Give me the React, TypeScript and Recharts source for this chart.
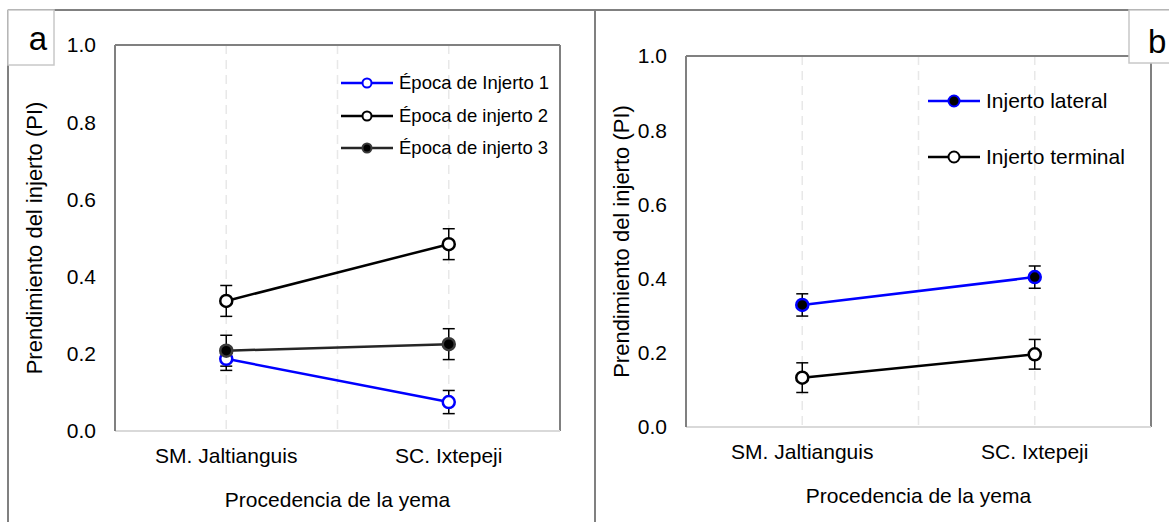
import { LineChart, Line, XAxis, YAxis, CartesianGrid, ErrorBar, Legend, ReferenceLine, Label } from 'recharts';

const FONT = '"Liberation Sans", Arial, sans-serif';

// categories (bud origin) and y ticks
const categories = ['SM. Jaltianguis', 'SC. Ixtepeji'];
const yTicks = [0, 0.2, 0.4, 0.6, 0.8, 1.0];

// panel a: grafting season
const epoca1 = [0.187, 0.075];
const epoca1Err = [0.03, 0.03];
const epoca2 = [0.337, 0.484];
const epoca2Err = [0.04, 0.04];
const epoca3 = [0.208, 0.225];
const epoca3Err = [0.04, 0.04];

// panel b: graft type
const lateral = [0.329, 0.404];
const lateralErr = [0.03, 0.03];
const terminal = [0.133, 0.196];
const terminalErr = [0.04, 0.04];

interface Series {
  key: string;
  name: string;
  stroke: string;
  dotFill: string;
  dotStroke: string;
}

const seriesA: Series[] = [
  { key: 'e1', name: 'Época de Injerto 1', stroke: '#0000ff', dotFill: '#ffffff', dotStroke: '#0000ff' },
  { key: 'e2', name: 'Época de injerto 2', stroke: '#000000', dotFill: '#ffffff', dotStroke: '#000000' },
  { key: 'e3', name: 'Época de injerto 3', stroke: '#262626', dotFill: '#000000', dotStroke: '#3a3a3a' },
];

const seriesB: Series[] = [
  { key: 'lat', name: 'Injerto lateral', stroke: '#0000ff', dotFill: '#000000', dotStroke: '#0000ff' },
  { key: 'ter', name: 'Injerto terminal', stroke: '#000000', dotFill: '#ffffff', dotStroke: '#000000' },
];

// category i sits at the middle of band i on a [0, n] axis
const xPos = (i: number) => i + 0.5;
const xTicks = [0.5, 1, 1.5];

const dataA = categories.map((c, i) => ({
  x: xPos(i),
  name: c,
  e1: epoca1[i],
  e1Err: epoca1Err[i],
  e2: epoca2[i],
  e2Err: epoca2Err[i],
  e3: epoca3[i],
  e3Err: epoca3Err[i],
}));

const dataB = categories.map((c, i) => ({
  x: xPos(i),
  name: c,
  lat: lateral[i],
  latErr: lateralErr[i],
  ter: terminal[i],
  terErr: terminalErr[i],
}));

const tickStyle = { fontSize: 21, fill: '#000', fontFamily: FONT };

function catLabel(v: number) {
  const idx = v - 0.5;
  return Number.isInteger(idx) && categories[idx] ? categories[idx] : '';
}

function LegendBox({ series, rowHeight, fontSize, markerR }: { series: Series[]; rowHeight: number; fontSize: number; markerR: number }) {
  return (
    <div style={{ fontFamily: FONT, fontSize, color: '#000' }}>
      {series.map((s) => (
        <div key={s.key} style={{ display: 'flex', alignItems: 'center', height: rowHeight }}>
          <svg width={52} height={20}>
            <line x1={0} y1={10} x2={52} y2={10} stroke={s.stroke} strokeWidth={2.5} />
            <circle cx={26} cy={10} r={markerR} fill={s.dotFill} stroke={s.dotStroke} strokeWidth={2} />
          </svg>
          <span style={{ marginLeft: 6, whiteSpace: 'nowrap' }}>{s.name}</span>
        </div>
      ))}
    </div>
  );
}

function yTitle(dx: number) {
  return ({ viewBox }: any) => {
    const cx = viewBox.x + dx;
    const cy = viewBox.y + viewBox.height / 2;
    return (
      <text x={cx} y={cy} dy="0.35em" transform={`rotate(-90 ${cx} ${cy})`} textAnchor="middle" fontSize={22} fontFamily={FONT} fill="#000">
        Prendimiento del injerto (PI)
      </text>
    );
  };
}

function xTitle(dy: number) {
  return ({ viewBox }: any) => (
    <text x={viewBox.x + viewBox.width / 2} y={viewBox.y + dy} textAnchor="middle" fontSize={21} fontFamily={FONT} fill="#000">
      Procedencia de la yema
    </text>
  );
}

function Panel({ data, series, width, margin, yWidth, legend }: any) {
  return (
    <LineChart width={width} height={522} data={data} margin={margin}>
      <CartesianGrid horizontal={false} stroke="#e8e8e8" strokeWidth={1.5} strokeDasharray="9 6" />
      <XAxis
        type="number"
        dataKey="x"
        domain={[0, 2]}
        ticks={xTicks}
        tickFormatter={catLabel}
        height={60}
        tickLine={false}
        tickSize={0}
        tickMargin={17}
        axisLine={{ stroke: '#d9d9d9', strokeWidth: 2 }}
        tick={tickStyle}
      >
        <Label content={xTitle(76)} />
      </XAxis>
      <YAxis
        type="number"
        domain={[0, 1]}
        ticks={yTicks}
        tickFormatter={(v: number) => v.toFixed(1)}
        width={yWidth}
        tickLine={false}
        tickSize={0}
        tickMargin={19}
        axisLine={{ stroke: '#808080', strokeWidth: 2 }}
        tick={tickStyle}
      >
        <Label content={yTitle(legend.yTitleX)} />
      </YAxis>
      <ReferenceLine y={1} stroke="#808080" strokeWidth={2} />
      <ReferenceLine x={2} stroke="#808080" strokeWidth={2} />
      <Legend
        layout="vertical"
        align="center"
        verticalAlign="middle"
        content={() => <LegendBox series={series} rowHeight={legend.rowHeight} fontSize={legend.fontSize} markerR={legend.markerR} />}
        wrapperStyle={{ position: 'absolute', left: legend.left, top: legend.top, width: 'auto', height: 'auto' }}
      />
      {series.map((s: Series) => (
        <Line
          key={s.key}
          type="linear"
          dataKey={s.key}
          name={s.name}
          stroke={s.stroke}
          strokeWidth={2.5}
          dot={{ r: 6, fill: s.dotFill, stroke: s.dotStroke, strokeWidth: 2.5 }}
          activeDot={false}
          isAnimationActive={false}
        >
          <ErrorBar dataKey={`${s.key}Err`} direction="y" width={6} stroke="#000" strokeWidth={1.5} />
        </Line>
      ))}
    </LineChart>
  );
}

export default function App() {
  return (
    <div style={{ position: 'absolute', left: 0, top: 0, width: 1169, height: 522, background: '#fff', fontFamily: FONT, overflow: 'hidden' }}>
      <svg width={1169} height={522} style={{ position: 'absolute', left: 0, top: 0 }}>
        <line x1={8} y1={10} x2={1169} y2={10} stroke="#808080" strokeWidth={2} />
        <line x1={8} y1={10} x2={8} y2={522} stroke="#808080" strokeWidth={2} />
        <line x1={595} y1={10} x2={595} y2={522} stroke="#808080" strokeWidth={2} />
      </svg>
      <div style={{ position: 'absolute', left: 0, top: 0 }}>
        <Panel
          data={dataA}
          series={seriesA}
          width={595}
          margin={{ top: 45, right: 35, left: 0, bottom: 31 }}
          yWidth={115}
          legend={{ left: 341, top: 67, rowHeight: 32.5, fontSize: 18.5, markerR: 4.5, yTitleX: 34 }}
        />
      </div>
      <div style={{ position: 'absolute', left: 595, top: 0 }}>
        <Panel
          data={dataB}
          series={seriesB}
          width={574}
          margin={{ top: 56, right: 18, left: 0, bottom: 35 }}
          yWidth={91}
          legend={{ left: 333, top: 73, rowHeight: 56, fontSize: 21, markerR: 5.5, yTitleX: 26 }}
        />
      </div>
      <svg width={1169} height={522} style={{ position: 'absolute', left: 0, top: 0, pointerEvents: 'none' }}>
        <rect x={8} y={10} width={46} height={55} fill="#fff" stroke="#c8c8c8" strokeWidth={1.5} />
        <text x={47} y={50} textAnchor="end" fontSize={33} fontFamily={FONT} fill="#000">a</text>
        <rect x={1129} y={10} width={50} height={53} fill="#fff" stroke="#c8c8c8" strokeWidth={1.5} />
        <text x={1148} y={53} fontSize={33} fontFamily={FONT} fill="#000">b</text>
      </svg>
    </div>
  );
}
